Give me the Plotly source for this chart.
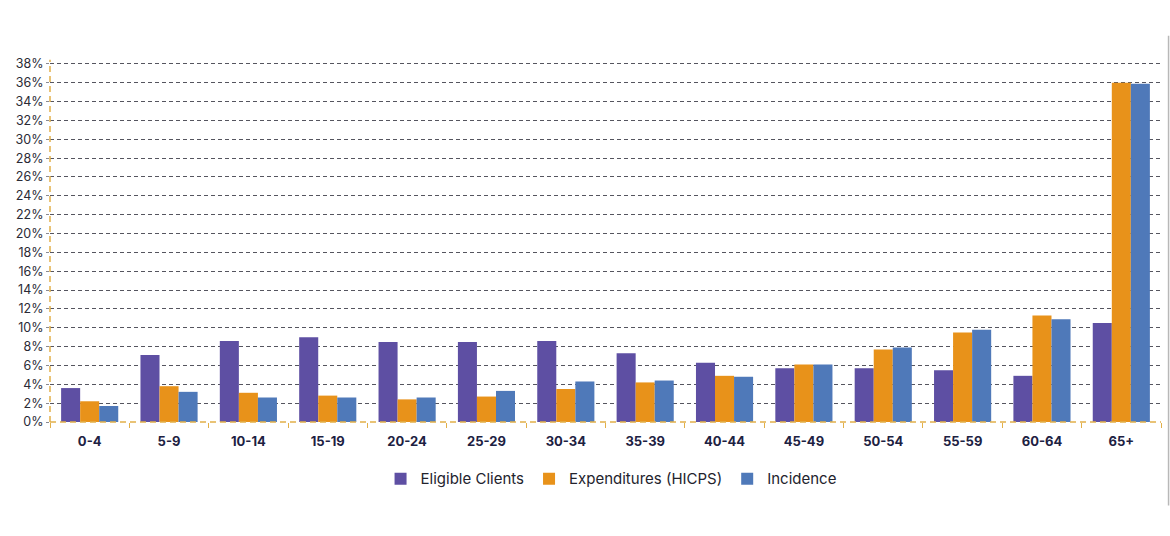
import plotly.graph_objects as go

categories = ["0-4", "5-9", "10-14", "15-19", "20-24", "25-29", "30-34",
              "35-39", "40-44", "45-49", "50-54", "55-59", "60-64", "65+"]
eligible_clients = [3.6, 7.1, 8.6, 9.0, 8.5, 8.5, 8.6, 7.3, 6.3, 5.7, 5.7, 5.5, 4.9, 10.5]
expenditures = [2.2, 3.8, 3.1, 2.8, 2.4, 2.7, 3.5, 4.2, 4.9, 6.1, 7.7, 9.5, 11.3, 36.0]
incidence = [1.7, 3.2, 2.6, 2.6, 2.6, 3.3, 4.3, 4.4, 4.8, 6.1, 7.9, 9.8, 10.9, 35.9]
y_ticks = list(range(0, 39, 2))
y_tick_labels = [f"{v}%" for v in y_ticks]

series = [
    ("Eligible Clients", eligible_clients, "#5E4FA3"),
    ("Expenditures (HICPS)", expenditures, "#E8921A"),
    ("Incidence", incidence, "#4F79B9"),
]

fig = go.Figure()
for name, vals, color in series:
    fig.add_trace(go.Bar(
        x=categories, y=vals, name=name,
        marker=dict(color=color, line=dict(width=0)),
        hovertemplate="%{x}: %{y}%<extra>" + name + "</extra>",
    ))

gold = "#E2B04A"
fig.update_layout(
    width=1170, height=536,
    paper_bgcolor="white", plot_bgcolor="white",
    margin=dict(l=50, r=9, t=62, b=114, autoexpand=False),
    barmode="group", bargap=0.28, bargroupgap=0,
    font=dict(family="Inter, Open Sans, sans-serif", color="#2a2a35"),
    xaxis=dict(
        showgrid=False, showline=False, zeroline=False, automargin=False,
        ticks="outside", tickson="boundaries", ticklen=5, tickcolor=gold, tickwidth=1,
        tickfont=dict(size=13, color="#1d2142", family="Inter, sans-serif", weight="bold"),
        ticklabelstandoff=10,
    ),
    yaxis=dict(
        range=[0, 38.2], tickvals=y_ticks, ticktext=y_tick_labels, automargin=False,
        showgrid=True, gridcolor="#55555f", griddash="4px,3px", gridwidth=1,
        zeroline=False, showline=False,
        ticks="outside", ticklen=3, tickcolor="#8a8a92",
        tickfont=dict(size=12.5, color="#2a2a35"),
        ticklabelstandoff=0,
    ),
    legend=dict(
        orientation="h", x=0.505, xanchor="center", y=-0.158, yanchor="middle",
        font=dict(size=15, color="#23232d"), itemwidth=30,
        traceorder="normal", bgcolor="rgba(0,0,0,0)",
    ),
    shapes=[
        dict(type="line", xref="paper", yref="paper", x0=0, x1=1, y0=0, y1=0,
             line=dict(color=gold, width=1.5, dash="6px,4px"), layer="above"),
        dict(type="line", xref="paper", yref="paper", x0=0, x1=0, y0=0, y1=1.006,
             line=dict(color=gold, width=1.5, dash="6px,4px"), layer="above"),
        dict(type="line", xref="paper", yref="paper", x0=1.0068, x1=1.0068, y0=-0.232, y1=1.0726,
             line=dict(color="#b8b8b8", width=1.5), layer="above"),
    ],
)

fig.write_html("out.html",
               config={"displayModeBar": False},
               post_script="document.body.style.margin='0';document.body.style.overflow='hidden';")
